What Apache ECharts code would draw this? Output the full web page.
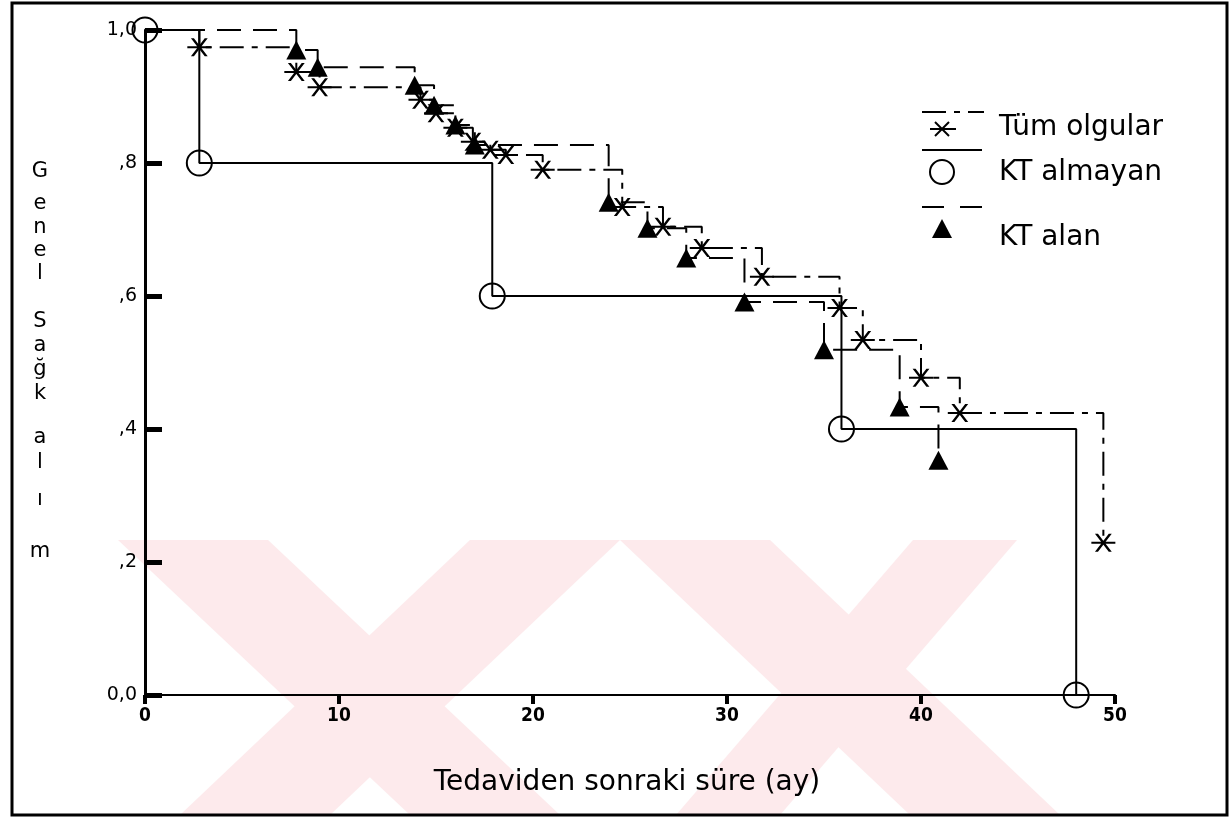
<!DOCTYPE html>
<html>
<head>
    <meta charset="utf-8">
    <title>Genel Sağkalım</title>
    <style>
        html, body { margin: 0; padding: 0; background: #fff; }
        #chart { width: 1231px; height: 820px; }
    </style>
</head>
<body>
    <div id="chart"></div>
    <script src="https://cdn.jsdelivr.net/npm/echarts@6/dist/echarts.min.js"></script>
    <script>
        // Kaplan-Meier adımları (ay, sağkalım oranı)
        var allTime  = [0, 2.8, 7.8, 9.0, 14.2, 15.0, 16.0, 16.9, 17.8, 18.6, 20.5, 24.6, 26.7, 28.7, 31.8, 35.8, 37.0, 40.0, 42.0, 49.4];
        var allSurv  = [1.0, 0.974, 0.937, 0.914, 0.895, 0.875, 0.853, 0.832, 0.82, 0.812, 0.79, 0.734, 0.704, 0.672, 0.629, 0.582, 0.534, 0.477, 0.424, 0.229];

        var noTime   = [0, 2.8, 17.9, 35.9, 48.0];
        var noSurv   = [1.0, 0.8, 0.6, 0.4, 0.0];

        var ktTime   = [0, 7.8, 8.9, 13.9, 14.9, 16.0, 17.0, 23.9, 25.9, 27.9, 30.9, 35.0, 38.9, 40.9];
        var ktSurv   = [1.0, 0.97, 0.944, 0.917, 0.887, 0.857, 0.827, 0.741, 0.702, 0.657, 0.591, 0.519, 0.433, 0.353];

        var seriesNames = ['Tüm olgular', 'KT almayan', 'KT alan'];
        var yTickLabels = { '0': '0,0', '0.2': ',2', '0.4': ',4', '0.6': ',6', '0.8': ',8', '1': '1,0' };
        var yNameLetters = ['G', 'e', 'n', 'e', 'l', 'S', 'a', 'ğ', 'k', 'a', 'l', 'ı', 'm'];

        var FONT = 'DejaVu Sans, sans-serif';
        var starPath = 'path://M0,9H20V11H0Z M3,1L5.5,1L17,19L14.5,19Z M14.5,1L17,1L5.5,19L3,19Z';
        var dashDot = [24, 8, 6, 8];
        var dashed = [24, 12];

        function pairs(ts, ss, firstSymbol) {
            return ts.map(function (t, i) {
                if (i === 0 && !firstSymbol) return { value: [t, ss[i]], symbol: 'none' };
                return [t, ss[i]];
            });
        }

        // filigran (soluk kırmızı)
        var wmColor = '#fdeaec';
        var watermark = [
            [[118, 540], [268, 540], [560, 815], [410, 815]],
            [[470, 540], [620, 540], [330, 815], [180, 815]],
            [[620, 540], [770, 540], [1060, 815], [910, 815]],
            [[913, 540], [1017, 540], [780, 815], [676, 815]]
        ].map(function (pts) {
            return { type: 'polygon', z: -10, silent: true, shape: { points: pts }, style: { fill: wmColor } };
        });

        var yNameY = [172, 204, 228, 251, 274, 322, 346, 370, 394, 438, 463, 500, 552];
        var yName = yNameLetters.map(function (ch, i) {
            return { type: 'text', x: 40, y: yNameY[i], style: { text: ch, font: '21px ' + FONT, fill: '#000', align: 'center', verticalAlign: 'middle' } };
        });

        var legendFont = '28px ' + FONT;
        var legend = [
            { type: 'line', shape: { x1: 922, y1: 112, x2: 984, y2: 112 }, style: { stroke: '#000', lineWidth: 2, lineDash: dashDot } },
            { type: 'line', shape: { x1: 930, y1: 129, x2: 956, y2: 129 }, style: { stroke: '#000', lineWidth: 2 } },
            { type: 'line', shape: { x1: 935, y1: 122, x2: 949, y2: 136 }, style: { stroke: '#000', lineWidth: 2 } },
            { type: 'line', shape: { x1: 949, y1: 122, x2: 935, y2: 136 }, style: { stroke: '#000', lineWidth: 2 } },
            { type: 'text', x: 999, y: 128, style: { text: seriesNames[0], font: legendFont, fill: '#000', verticalAlign: 'middle' } },

            { type: 'line', shape: { x1: 922, y1: 150, x2: 982, y2: 150 }, style: { stroke: '#000', lineWidth: 2 } },
            { type: 'circle', shape: { cx: 942, cy: 172, r: 12 }, style: { fill: 'none', stroke: '#000', lineWidth: 2 } },
            { type: 'text', x: 999, y: 173, style: { text: seriesNames[1], font: legendFont, fill: '#000', verticalAlign: 'middle' } },

            { type: 'line', shape: { x1: 922, y1: 207, x2: 982, y2: 207 }, style: { stroke: '#000', lineWidth: 2, lineDash: [22, 16] } },
            { type: 'polygon', shape: { points: [[942, 219], [952, 238], [932, 238]] }, style: { fill: '#000' } },
            { type: 'text', x: 999, y: 238, style: { text: seriesNames[2], font: legendFont, fill: '#000', verticalAlign: 'middle' } },

            { type: 'rect', shape: { x: 12, y: 3, width: 1215, height: 812 }, style: { fill: 'none', stroke: '#000', lineWidth: 3 } },
            { type: 'text', x: 627, y: 783, style: { text: 'Tedaviden sonraki süre (ay)', font: legendFont, fill: '#000', align: 'center', verticalAlign: 'middle' } }
        ];

        var myChart = echarts.init(document.getElementById('chart'));
        var option = {
            backgroundColor: '#fff',
            animation: false,
            grid: { left: 145, right: 116, top: 30, bottom: 125 },
            xAxis: {
                type: 'value', min: 0, max: 50, interval: 10,
                axisLine: { lineStyle: { color: '#000', width: 2 } },
                axisTick: { show: true, length: 9, lineStyle: { color: '#000', width: 4 } },
                axisLabel: { color: '#000', fontFamily: 'DejaVu Sans Condensed, DejaVu Sans, sans-serif', fontSize: 19, fontWeight: 'bold', margin: 12 },
                splitLine: { show: false }
            },
            yAxis: {
                type: 'value', min: 0, max: 1, interval: 0.2,
                axisLine: { lineStyle: { color: '#000', width: 3 } },
                axisTick: { show: true, inside: true, length: 17, lineStyle: { color: '#000', width: 5 } },
                axisLabel: {
                    color: '#000', fontFamily: FONT, fontSize: 19, margin: 8,
                    formatter: function (v) { return yTickLabels[String(Math.round(v * 10) / 10)]; }
                },
                splitLine: { show: false }
            },
            graphic: watermark.concat(yName, legend),
            series: [
                {
                    name: seriesNames[0], type: 'line', step: 'end',
                    data: pairs(allTime, allSurv, false),
                    symbol: starPath, symbolSize: [24, 18],
                    itemStyle: { color: '#000' },
                    lineStyle: { color: '#000', width: 2, type: dashDot },
                    z: 3
                },
                {
                    name: seriesNames[1], type: 'line', step: 'end',
                    data: pairs(noTime, noSurv, true),
                    symbol: 'circle', symbolSize: 25,
                    itemStyle: { color: 'rgba(255,255,255,0)', borderColor: '#000', borderWidth: 2 },
                    lineStyle: { color: '#000', width: 2 },
                    z: 4
                },
                {
                    name: seriesNames[2], type: 'line', step: 'end',
                    data: pairs(ktTime, ktSurv, false),
                    symbol: 'triangle', symbolSize: [20, 19],
                    itemStyle: { color: '#000' },
                    lineStyle: { color: '#000', width: 2, type: dashed },
                    z: 2
                }
            ]
        };
        myChart.setOption(option);
    </script>
</body>
</html>
